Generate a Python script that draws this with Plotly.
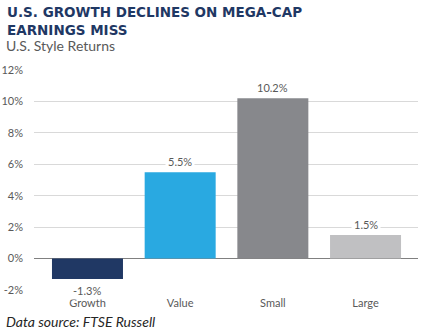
import plotly.graph_objects as go

categories = ["Growth", "Value", "Small", "Large"]
values = [-1.3, 5.5, 10.2, 1.5]
colors = ["#203864", "#29A9E1", "#87888C", "#C0C0C2"]
tick_vals = [-2, 0, 2, 4, 6, 8, 10, 12]
tick_text = [f"{v}%" for v in tick_vals]

W, H = 425, 332
L, R, T, B = 34, 7, 70, 41.5
pw = W - L - R

fig = go.Figure()
fig.add_trace(go.Bar(
    x=list(range(len(categories))), y=values,
    marker=dict(color=colors, line=dict(width=0)),
    width=0.766, hoverinfo="skip",
))

for i, v in enumerate(values):
    fig.add_annotation(
        x=i, y=v, xref="x", yref="y",
        text=f"{v:.1f}%", showarrow=False,
        yanchor="bottom" if v >= 0 else "top",
        yshift=1 if v >= 0 else -2,
        font=dict(family="Lato", size=11, color="#595959"),
        bgcolor="white", borderpad=2,
    )

def px(x):
    return (x - L) / pw

fig.add_annotation(x=px(5), y=1, xref="paper", yref="paper", yanchor="top", xanchor="left",
                   yshift=T - 2, align="left", showarrow=False,
                   text="<b>U.S. GROWTH DECLINES ON MEGA-CAP<br>EARNINGS MISS</b>",
                   font=dict(family="DejaVu Sans", size=13.5, color="#1F3864"))
fig.add_annotation(x=px(4), y=1, xref="paper", yref="paper", yanchor="middle", xanchor="left",
                   yshift=T - 45, showarrow=False, text="U.S. Style Returns",
                   font=dict(family="Lato", size=14, color="#595959"))
fig.add_annotation(x=px(4), y=0, xref="paper", yref="paper", yanchor="middle", xanchor="left",
                   yshift=-(322 - (H - B)), showarrow=False, text="<i>Data source: FTSE Russell</i>",
                   font=dict(family="Lato", size=14, color="#262626"))

fig.update_layout(
    width=W, height=H, margin=dict(l=L, r=R, t=T, b=B, autoexpand=False),
    paper_bgcolor="white", plot_bgcolor="white", showlegend=False,
    xaxis=dict(range=[-0.577, 3.566], tickvals=list(range(len(categories))), ticktext=categories,
               showgrid=False, zeroline=False, showline=False, ticks="", ticklabelstandoff=5,
               automargin=False,
               tickfont=dict(family="Lato", size=11, color="#595959")),
    yaxis=dict(range=[-2, 12], tickvals=tick_vals, ticktext=tick_text,
               showgrid=True, gridcolor="#D9D9D9", gridwidth=1,
               zeroline=True, zerolinecolor="#808080", zerolinewidth=1,
               showline=False, ticks="", ticklabelstandoff=10, automargin=False,
               tickfont=dict(family="Lato", size=11, color="#595959")),
)

fig.write_html("out.html")
